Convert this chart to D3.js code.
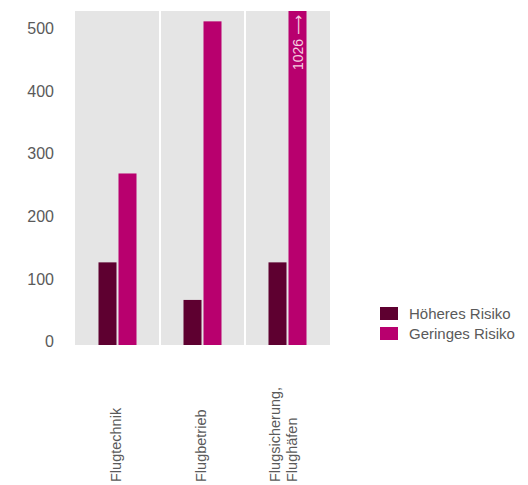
<!DOCTYPE html>
<html>
<head>
<meta charset="utf-8">
<script src="https://cdn.jsdelivr.net/npm/d3@7"></script>
<style>
  body { margin: 0; background: #fff; }
  svg text { font-family: "Liberation Sans", Arial, sans-serif; fill: #5a5a5a; }
</style>
</head>
<body>
<svg id="chart"></svg>
<script>
// data
const categories = ["Flugtechnik", "Flugbetrieb", "Flugsicherung,\nFlughäfen"];
const seriesNames = ["Höheres Risiko", "Geringes Risiko"];
const hoeheres = [132, 72, 132];
const geringes = [274, 517, 1026];
const yTicks = [0, 100, 200, 300, 400, 500];
const colors = ["#5e0030", "#b8006e"];

const svgWidth = 528, svgHeight = 485;
const plot = { left: 75, right: 330, top: 11, bottom: 345 };

const svg = d3.select("#chart")
  .attr("width", svgWidth)
  .attr("height", svgHeight);

const x0 = d3.scaleBand().domain(d3.range(categories.length)).range([plot.left, plot.right]).padding(0);
const x1 = d3.scaleBand().domain(d3.range(seriesNames.length)).range([-19, 19]).paddingInner(0.1);
const yScale = d3.scaleLinear().domain([0, 500]).range([plot.bottom, 32]);
const yMax = yScale.invert(plot.top);

// grey panels
svg.append("rect")
  .attr("x", plot.left).attr("y", plot.top)
  .attr("width", plot.right - plot.left)
  .attr("height", plot.bottom - plot.top)
  .attr("fill", "#e5e5e5");

// white separators
svg.selectAll(".sep")
  .data(d3.range(1, categories.length))
  .enter().append("line")
  .attr("x1", i => x0(i)).attr("x2", i => x0(i))
  .attr("y1", plot.top).attr("y2", plot.bottom + 1)
  .attr("stroke", "#fff").attr("stroke-width", 2);

// bars
const rows = categories.map((c, i) => [hoeheres[i], geringes[i]]);
const groups = svg.selectAll(".grp")
  .data(rows)
  .enter().append("g")
  .attr("transform", (d, i) => `translate(${x0(i) + x0.bandwidth() / 2},0)`);

groups.selectAll("rect")
  .data(d => d)
  .enter().append("rect")
  .attr("x", (d, j) => x1(j))
  .attr("width", x1.bandwidth())
  .attr("y", d => yScale(Math.min(d, yMax)))
  .attr("height", d => yScale(0) - yScale(Math.min(d, yMax)))
  .attr("fill", (d, j) => colors[j]);

// label for the clipped bar
rows.forEach((d, i) => {
  if (d[1] > yMax) {
    const cx = x0(i) + x0.bandwidth() / 2 + x1(1) + x1.bandwidth() / 2;
    svg.append("text")
      .attr("transform", `translate(${cx + 5},${plot.top + 4}) rotate(-90)`)
      .attr("text-anchor", "end")
      .style("fill", "#f5cde0")
      .style("font-size", "14px")
      .style("font-family", "Liberation Sans, DejaVu Sans, sans-serif")
      .text(d[1] + " \u27F6");
  }
});

// y axis
const yAxis = svg.append("g")
  .attr("transform", `translate(${plot.left - 21},0)`)
  .call(d3.axisLeft(yScale).tickValues(yTicks).tickSize(0).tickPadding(0));
yAxis.select(".domain").remove();
yAxis.selectAll("text")
  .attr("dy", "0.1em")
  .style("font-size", "16px")
  .style("font-family", "Liberation Sans, Arial, sans-serif")
  .style("fill", "#5a5a5a");

// x labels, rotated
categories.forEach((c, i) => {
  const lines = c.split("\n");
  const cx = x0(i) + x0.bandwidth() / 2;
  const t = svg.append("text")
    .attr("transform", `translate(${cx - 2},${482}) rotate(-90)`)
    .attr("text-anchor", "start")
    .style("font-size", "14.5px");
  lines.forEach((l, k) => {
    t.append("tspan")
      .attr("x", 0)
      .attr("dy", k === 0 ? (lines.length > 1 ? "-0.35em" : "0.35em") : "1.15em")
      .text(l);
  });
});

// legend
const legend = svg.append("g").attr("transform", "translate(380,307)");
seriesNames.forEach((s, j) => {
  legend.append("rect")
    .attr("x", 0).attr("y", j * 20)
    .attr("width", 18).attr("height", 13)
    .attr("fill", colors[j]);
  legend.append("text")
    .attr("x", 29).attr("y", j * 20 + 6.5)
    .attr("dy", "0.35em")
    .style("font-size", "15px")
    .text(s);
});
</script>
</body>
</html>
